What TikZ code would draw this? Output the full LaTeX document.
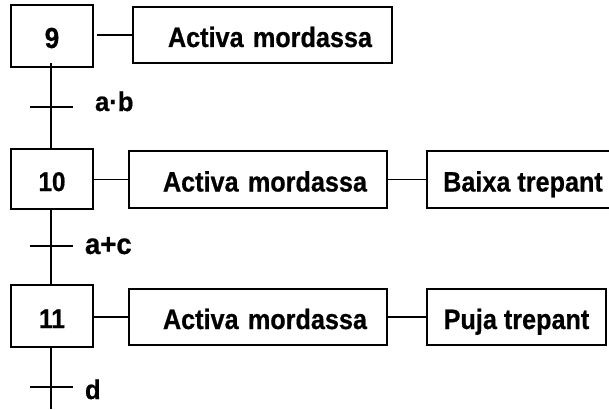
\documentclass[tikz,border=0pt]{standalone}
\usepackage{fontspec}
\setmainfont{Liberation Sans}
\newfontfamily\narrowfont{Liberation Sans}[FakeStretch=0.9,FakeBold=0.6]
\newfontfamily\labelfont{Liberation Sans}[FakeStretch=0.95,FakeBold=0.6]
\begin{document}
\begin{tikzpicture}[x=1pt,y=-1pt,
  every node/.style={inner sep=0pt, outer sep=0pt},
  stepbox/.style={draw, line width=2pt, anchor=north west,
    minimum width=82pt, text height=24pt, text depth=0pt,
    font=\narrowfont\bfseries\fontsize{27}{29}\selectfont},
  actbox/.style={draw, line width=2pt, anchor=north west,
    text width=218pt, align=right, inner xsep=20pt,
    text height=24pt, text depth=0pt,
    font=\narrowfont\bfseries\fontsize{28}{30}\selectfont},
  outbox/.style={draw, line width=2pt, anchor=north west,
    text height=24pt, text depth=0pt,
    font=\narrowfont\bfseries\fontsize{28}{30}\selectfont},
  cond/.style={anchor=base west,
    font=\labelfont\bfseries},
  link/.style={line width=1.6pt},
  bar/.style={line width=1.6pt}
]
\useasboundingbox (0,0) rectangle (609,409);

% steps
\node[stepbox, minimum height=62pt,
  font=\narrowfont\bfseries\fontsize{29}{31}\selectfont] (s9) at (11,5) {9};
\node[stepbox, minimum height=60pt] (s10) at (11,149) {10};
\node[stepbox, minimum height=62pt] (s11) at (11,285) {11};

% actions
\node[actbox, minimum height=56pt, text width=219pt] (a9) at (133,7) {Activa mordassa};
\node[actbox, minimum height=57pt] (a10) at (129,151) {Activa mordassa};
\node[outbox, minimum height=57pt, minimum width=192pt] (b10) at (427,151) {Baixa trepant};
\node[actbox, minimum height=56pt] (a11) at (129,289) {Activa mordassa};
\node[outbox, minimum height=56pt, minimum width=179pt] (p11) at (427,289) {Puja trepant};

% step to action links
\draw[link] ([xshift=4pt]s9.east |- a9.west) -- (a9.west);
\draw[link] (s10.east |- a10.west) -- (a10.west);
\draw[link] (a10.east) -- (a10.east -| b10.west);
\draw[link] (s11.east |- a11.west) -- (a11.west);
\draw[link] (a11.east) -- (a11.east -| p11.west);

% sequence line and transitions
\coordinate (t1) at (51,107);
\coordinate (t2) at (51,246);
\coordinate (t3) at (51,387);
\coordinate (end) at (51,409);
\draw[link] ([yshift=4pt]s9.south -| t1) -- (s10.north -| t1);
\draw[link] (s10.south -| t2) -- (s11.north -| t2);
\draw[link] (s11.south -| t3) -- (end);
\foreach \t in {t1,t2,t3}
  \draw[bar] ([xshift=-21pt]\t) -- ([xshift=22pt]\t);

% transition conditions
\node[cond, font=\labelfont\bfseries\fontsize{27}{29}\selectfont] (c1) at (95,111) {a·b};
\node[cond, font=\labelfont\bfseries\fontsize{29}{31}\selectfont] (c2) at (85,254) {a+c};
\node[cond, font=\labelfont\bfseries\fontsize{27}{29}\selectfont] (c3) at (85,399) {d};
\end{tikzpicture}
\end{document}
